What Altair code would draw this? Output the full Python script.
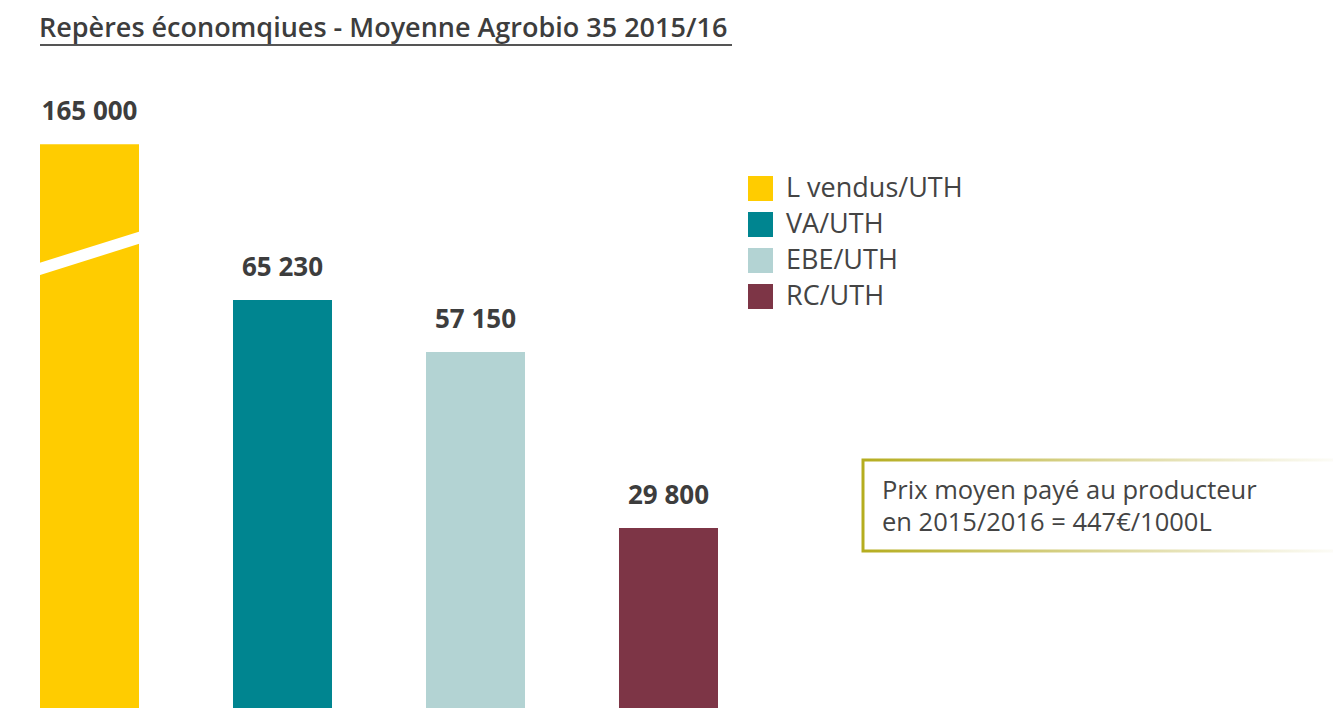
import altair as alt
import pandas as pd

# ---- data ----
categories = ["L vendus/UTH", "VA/UTH", "EBE/UTH", "RC/UTH"]
values = [165000, 65230, 57150, 29800]
value_labels = ["165 000", "65 230", "57 150", "29 800"]
colors = ["#FFCC00", "#008590", "#B3D3D3", "#7D3546"]

# broken bar: height shown for values above the cap, and the break stripe (value units)
display_cap = 89400
break_low = 70060
break_high = 74880

title_text = "Repères économqiues - Moyenne Agrobio 35 2015/16"
note_lines = ["Prix moyen payé au producteur", "en 2015/2016 = 447€/1000L"]

FONT = "Open Sans"
TXT = "#3d3d3d"

df = pd.DataFrame({"cat": categories, "value": values, "label": value_labels})
df["shown"] = df["value"].clip(upper=display_cap)
brk_df = df[df["value"] > display_cap].assign(lo=break_low, hi=break_high)

xscale = alt.Scale(domain=categories, range=[32, 710], paddingInner=0.487, paddingOuter=0)
yscale = alt.Scale(domain=[1863, 110559], zero=False, nice=False)

bars = alt.Chart(df).mark_bar().encode(
    x=alt.X("cat:N", scale=xscale, axis=None, sort=categories),
    y=alt.Y("shown:Q", scale=yscale, axis=None),
    y2=alt.datum(0),
    color=alt.Color(
        "cat:N",
        scale=alt.Scale(domain=categories, range=colors),
        legend=alt.Legend(
            orient="none", legendX=739, legendY=167, title=None,
            symbolType="square", symbolSize=625, symbolStrokeWidth=0, symbolOpacity=1,
            labelFont=FONT, labelFontSize=27, labelColor="#444444", labelLimit=400,
            rowPadding=8, labelOffset=12,
        ),
    ),
)

brk = alt.Chart(brk_df).mark_rule(color="white", strokeWidth=11.7, strokeCap="square").encode(
    x=alt.X("cat:N", scale=xscale, axis=None, bandPosition=0),
    x2=alt.X2("cat", bandPosition=1),
    y=alt.Y("lo:Q", scale=yscale, axis=None),
    y2="hi:Q",
)

labels = alt.Chart(df).mark_text(
    font=FONT, fontSize=26, fontWeight="bold", color=TXT, dy=-24, baseline="alphabetic"
).encode(
    x=alt.X("cat:N", scale=xscale, axis=None),
    y=alt.Y("shown:Q", scale=yscale, axis=None),
    text="label:N",
)

one = pd.DataFrame({"t": [title_text]})

box = alt.Chart(one).mark_rect(
    fill="white", strokeWidth=3,
    stroke={"gradient": "linear", "x1": 0, "x2": 1, "y1": 0, "y2": 0,
            "stops": [{"offset": 0, "color": "#B5AD1F"},
                      {"offset": 0.5, "color": "#DCD79A"},
                      {"offset": 1, "color": "#FFFFFF"}]},
).encode(x=alt.value(855), x2=alt.value(1345), y=alt.value(452), y2=alt.value(543))

note = alt.Chart(one).mark_text(
    font=FONT, fontSize=25.5, color="#444444", align="left", baseline="alphabetic", lineHeight=32
).encode(x=alt.value(874), y=alt.value(491), text=alt.value(note_lines))

title = alt.Chart(one).mark_text(
    font=FONT, fontSize=27, fontWeight=600, color=TXT, align="left", baseline="alphabetic"
).encode(x=alt.value(31), y=alt.value(29), text="t:N")

underline = alt.Chart(one).mark_rule(color="#555555", strokeWidth=2).encode(
    x=alt.value(32), x2=alt.value(724), y=alt.value(37)
)

chart = alt.layer(bars, brk, labels, box, note, title, underline).properties(
    width=1325, height=700, padding=0,
    autosize=alt.AutoSizeParams(type="none"),
).configure_view(stroke=None)

chart.save("out.html", embed_options={"renderer": "svg", "actions": False})
